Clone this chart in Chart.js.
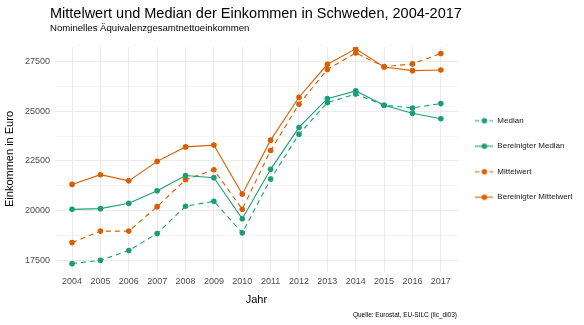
<!DOCTYPE html>
<html lang="de">
<head>
<meta charset="utf-8">
<title>Mittelwert und Median der Einkommen in Schweden</title>
<script src="https://cdn.jsdelivr.net/npm/chart.js@4.4.1/dist/chart.umd.min.js"></script>
<style>
  html, body { margin: 0; padding: 0; background: #fff; }
  #wrap { position: relative; width: 584px; height: 325px; font-family: 'Liberation Sans', Arial, sans-serif; color: #000; }
  #wrap canvas { position: absolute; left: 0; top: 0; }
  .title { position: absolute; left: 50px; top: 6px; font-size: 14.5px; line-height: 15px; white-space: nowrap; }
  .subtitle { position: absolute; left: 50px; top: 23px; font-size: 9.6px; line-height: 10px; white-space: nowrap; }
  .caption { position: absolute; right: 127px; top: 310.5px; font-size: 6.5px; line-height: 7px; white-space: nowrap; }
</style>
</head>
<body>
<div id="wrap">
  <canvas id="chart"></canvas>
  <div class="title">Mittelwert und Median der Einkommen in Schweden, 2004-2017</div>
  <div class="subtitle">Nominelles Äquivalenzgesamtnettoeinkommen</div>
  <div class="caption">Quelle: Eurostat, EU-SILC (ilc_di03)</div>
</div>
<script>
  // values (Euro)
  const years = [2004, 2005, 2006, 2007, 2008, 2009, 2010, 2011, 2012, 2013, 2014, 2015, 2016, 2017];
  const median = [17330, 17500, 17990, 18850, 20220, 20470, 18880, 21590, 23850, 25440, 25870, 25310, 25170, 25390];
  const medianAdj = [20065, 20100, 20370, 21000, 21770, 21660, 19590, 22080, 24190, 25640, 26030, 25310, 24900, 24630];
  const mean = [18390, 18970, 18970, 20200, 21560, 22060, 20070, 23030, 25360, 27110, 27940, 27250, 27390, 27910];
  const meanAdj = [21320, 21810, 21500, 22480, 23210, 23300, 20830, 23550, 25710, 27370, 28150, 27230, 27050, 27080];
  const seriesNames = ['Median', 'Bereinigter Median', 'Mittelwert', 'Bereinigter Mittelwert'];
  const yMajorTicks = [17500, 20000, 22500, 25000, 27500];
  const yMinorTicks = [18750, 21250, 23750, 26250];

  const GREEN = '#1b9e77';
  const ORANGE = '#d95f02';
  const GRID = '#ebebeb';

  Chart.defaults.font.family = "'Liberation Sans', Arial, sans-serif";

  // little line + dot key for the legend, like the ggplot one
  function legendKey(color, dashed) {
    const c = document.createElement('canvas');
    c.width = 18; c.height = 8;
    const g = c.getContext('2d');
    g.strokeStyle = color;
    g.lineWidth = 1.1;
    if (dashed) g.setLineDash([4, 3]);
    g.beginPath(); g.moveTo(0, 4); g.lineTo(18, 4); g.stroke();
    g.setLineDash([]);
    g.fillStyle = color;
    g.beginPath(); g.arc(9, 4, 2.8, 0, Math.PI * 2); g.fill();
    return c;
  }

  function series(label, values, color, dashed) {
    return {
      label: label,
      data: years.map((x, i) => ({ x: x, y: values[i] })),
      borderColor: color,
      backgroundColor: color,
      borderWidth: 1.1,
      borderDash: dashed ? [5, 4] : [],
      pointRadius: 2.8,
      pointHoverRadius: 2.8,
      pointBorderWidth: 0,
      tension: 0,
      fill: false,
      keyImage: legendKey(color, dashed)
    };
  }

  new Chart(document.getElementById('chart'), {
    type: 'line',
    data: {
      datasets: [
        series(seriesNames[0], median, GREEN, true),
        series(seriesNames[1], medianAdj, GREEN, false),
        series(seriesNames[2], mean, ORANGE, true),
        series(seriesNames[3], meanAdj, ORANGE, false)
      ]
    },
    options: {
      responsive: true,
      maintainAspectRatio: false,
      animation: false,
      layout: { padding: { top: 47, bottom: 18.4, left: 0, right: 1.5 } },
      plugins: {
        title: { display: false },
        tooltip: { enabled: false },
        legend: {
          position: 'right',
          align: 'center',
          fullSize: false,
          labels: {
            usePointStyle: true,
            pointStyleWidth: 18,
            padding: 17.5,
            color: '#1a1a1a',
            font: { size: 8 },
            generateLabels(chart) {
              const items = Chart.defaults.plugins.legend.labels.generateLabels(chart);
              items.forEach(it => { it.pointStyle = chart.data.datasets[it.datasetIndex].keyImage; });
              return items;
            }
          }
        }
      },
      scales: {
        x: {
          type: 'linear',
          min: 2003.4,
          max: 2017.6,
          afterBuildTicks: s => { s.ticks = years.map(v => ({ value: v })); },
          ticks: { callback: v => String(v), color: '#4d4d4d', font: { size: 9 }, padding: 5, autoSkip: false, maxRotation: 0 },
          grid: { color: GRID, lineWidth: 1, drawTicks: false },
          border: { display: false },
          title: { display: true, text: 'Jahr', color: '#000', font: { size: 11 }, padding: { top: 1.6, bottom: 0 } }
        },
        y: {
          min: 16960,
          max: 28240,
          afterBuildTicks: s => {
            s.ticks = yMajorTicks.concat(yMinorTicks).sort((a, b) => a - b).map(v => ({ value: v }));
          },
          ticks: {
            callback: v => yMajorTicks.includes(v) ? String(v) : '',
            color: '#4d4d4d', font: { size: 9 }, padding: 5, autoSkip: false
          },
          grid: {
            color: GRID,
            lineWidth: ctx => (ctx.tick && yMinorTicks.includes(ctx.tick.value)) ? 0.5 : 1,
            drawTicks: false
          },
          border: { display: false },
          title: { display: true, text: 'Einkommen in Euro', color: '#000', font: { size: 11 }, padding: { top: 3.4, bottom: 3.4 } }
        }
      }
    }
  });
</script>
</body>
</html>
